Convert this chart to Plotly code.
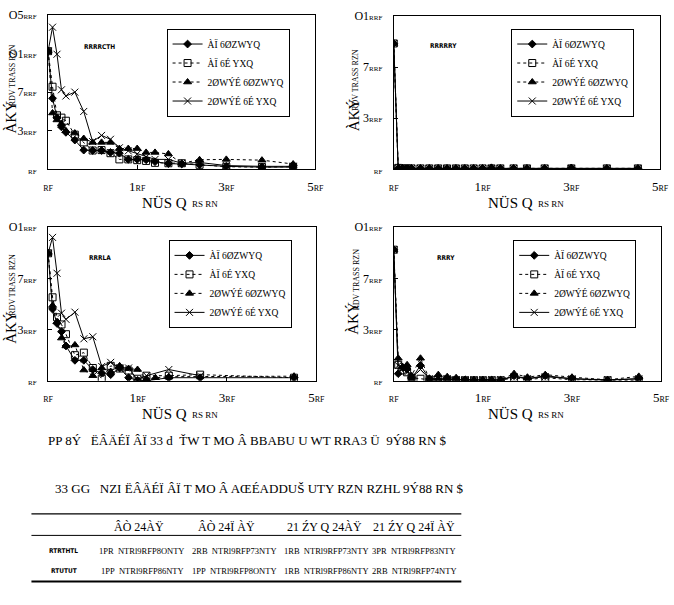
import plotly.graph_objects as go

W, H = 674, 605

# ---------------- data ----------------
X = [0, 0.5, 1, 1.5, 2, 3, 4, 5, 6, 7, 8, 9, 10, 11, 12, 13.5, 15, 17, 20, 24, 27.5]

SERIES_NAMES = ["ÀÏ 6ØZWYQ", "ÀÏ 6É YXQ", "2ØWÝÉ 6ØZWYQ", "2ØWÝÉ 6É YXQ"]

# panel A (top-left)
A_S1 = [153, 92, 67, 55, 48, 38, 25, 24.5, 24.5, 22, 21, 13, 13, 12.5, 10, 7.5, 7, 6, 4, 3, 3]
A_S2 = [153, 107, 70, 67, 63, 45, 35, 24.5, 25, 21, 13, 13, 12, 11, 8.5, 8, 8, 6, 3.5, 3, 3.5]
A_S3 = [153, 73, 64, 59, 50, 47, 40, 35, 35, 35, 27, 27, 27, 22, 22, 20, 8, 12.5, 13, 12, 7]
A_S4 = [153, 184, 149, 103, 95, 100, 75, 36, 44, 39, 28, 24, 20, 16, 13, 13, 8, 9, 5, 4, 4]

# panel B (top-right)
B_S1 = [123, 1, 1, 1, 1, 1, 1, 1, 1, 1, 1, 1, 1, 1.5, 1, 1, 1, 1, 1.5, 1, 1]
B_S2 = [123, 1.5, 1, 1, 1, 1, 1, 1, 1, 1, 1, 1, 1, 1, 1, 1, 1, 1, 1, 1, 1]
B_S3 = [123, 1.5, 1.5, 1, 1, 1, 1, 1, 1, 1, 1, 1, 1, 2, 1, 1, 1, 1, 1.5, 1, 1]
B_S4 = [123, 1, 1, 1, 1, 1, 1, 1, 1, 1, 1, 1, 1, 1, 1, 1, 1, 1, 1, 1, 1]

# panel C (bottom-left)
C_S1 = [124.5, 70, 56, 48, 34, 20, 20, 11, 7.5, 6, 12.5, 3, 0.5, 0, None, 3, None, 3, None, None, 3]
C_S2 = [124.5, 81.5, 62, 55, 45.5, 25, 27.5, 12.5, 2, 14.6, 12, 10, 2, 5, None, 5, None, 6, None, None, 3]
C_S3 = [124.5, 73.5, 57.6, 41.7, 34, 35, 10.5, 5, 12.5, 9, 14.6, 12, 11, 1.6, 3, 4, None, None, None, None, 4.5]
C_S4 = [124.5, 140, 105, 66, 60, 67, 41, 43, 14, 18, 12.5, 12.5, 1, 5, None, 11, None, 5, None, None, None]

# panel D (bottom-right)
D_S1 = [128, 7, 13, 11.5, 2, 15, 2, 1, 1, 1, 1, 0.5, 0.5, 0.5, 0.5, 5, 2, 5, 2, 0.5, 2]
D_S2 = [128, 15.6, 10, 8.3, 3, 2, 1, 1, 1, 0.5, 0.5, 0.5, 0.5, 0.5, 0.5, 3, 1, 3, 1, 0.5, 0.5]
D_S3 = [128, 22, 13.7, 15.6, 5, 22, 2, 6, 4, 3, 1, 1, 1, 1, 1, 7, 3.5, 6, 3.5, 1, 4.3]
D_S4 = [128, 15, 12, 10, 3, 11, 2, 2, 2, 1, 1, 1, 1, 1, 1, 4, 2, 4, 2, 1, 2]

PANEL_LABELS = ["RRRRCTH", "RRRRRY", "RRRLA", "RRRY"]

X_TICK_VALS = [0, 10, 20, 30]
X_TICK_BIG = ["", "1", "3", "5"]
X_TICK_SMALL = ["RF", "RF", "RF", "RF"]
Y_TICK_VALS_A = [0, 50, 100, 150, 200]
Y_TICK_BIG_A = ["", "3", "7", "O1", "O5"]
Y_TICK_SMALL_A = ["RF", "RRF", "RRF", "RRF", "RRF"]
Y_TICK_VALS = [0, 50, 100, 150]
Y_TICK_BIG = ["", "3", "7", "O1"]
Y_TICK_SMALL = ["RF", "RRF", "RRF", "RRF"]

X_TITLE_BIG = "NÜS Q"
X_TITLE_SMALL = "RS RN"
Y_TITLE_BIG = "ÀKÝ"
Y_TITLE_SMALL = "RDV TRASS RZN"

NOTE_LINE_1 = "PP 8Ý   ËÂÄÉÏ ÂÏ 33 d  ŤW T MO Â BBABU U WT RRA3 Ü  9Ý88 RN $"
NOTE_LINE_2 = "33 GG   NZI ËÂÄÉÏ ÂÏ T MO Â AŒÉADDUŠ UTY RZN RZHL 9Ý88 RN $"

TABLE_HEADER = ["ÂÒ 24ÀŸ", "ÂÒ 24Ï ÀŸ", "21 ŹY Q 24ÀŸ", "21 ŹY Q 24Ï ÀŸ"]
TABLE_ROW_LABELS = ["RTRTHTL", "RTUTUT"]
TABLE_ROWS = [
    ["1PR  NTRl9RFP8ONTY", "2RB  NTRl9RFP73NTY", "1RB  NTRl9RFP73NTY", "3PR  NTRl9RFP83NTY"],
    ["1PP  NTRl9RFP86NTY", "1PP  NTRl9RFP8ONTY", "1RB  NTRl9RFP86NTY", "2RB  NTRl9RFP74NTY"],
]

# ---------------- layout helpers ----------------
FONT = "Liberation Serif"
NARROW = "Liberation Sans Narrow, DejaVu Sans Condensed, Liberation Sans"


def px(x):
    return x / W


def py(y):
    return 1 - y / H


def tick_text(big, small, small_size=8):
    return [b + "<span style='font-size:%dpx'>%s</span>" % (small_size, s) for b, s in zip(big, small)]


panels = [
    dict(s=[A_S1, A_S2, A_S3, A_S4], xd=(44, 317), yd=(8, 166), yv=Y_TICK_VALS_A,
         yt=tick_text(Y_TICK_BIG_A, Y_TICK_SMALL_A, 7), yr=200, leg=(165, 22), lab=(97, 41),
         ytx=6, yts=70, ytb=112),
    dict(s=[B_S1, B_S2, B_S3, B_S4], xd=(397, 669), yd=(9, 166), yv=Y_TICK_VALS,
         yt=tick_text(Y_TICK_BIG, Y_TICK_SMALL, 7), yr=150, leg=(517, 22), lab=(448, 40),
         ytx=356, yts=75, ytb=110),
    dict(s=[C_S1, C_S2, C_S3, C_S4], xd=(44, 318), yd=(225, 382), yv=Y_TICK_VALS,
         yt=tick_text(Y_TICK_BIG, Y_TICK_SMALL, 7), yr=150, leg=(167, 238), lab=(97, 257),
         ytx=6, yts=284, ytb=327),
    dict(s=[D_S1, D_S2, D_S3, D_S4], xd=(397, 670), yd=(225, 382), yv=Y_TICK_VALS,
         yt=tick_text(Y_TICK_BIG, Y_TICK_SMALL, 7), yr=150, leg=(519, 238), lab=(450, 257),
         ytx=356, yts=279, ytb=318),
]

styles = [
    dict(dash="solid", symbol="diamond", size=6),
    dict(dash="dot", symbol="square-open", size=7),
    dict(dash="dot", symbol="triangle-up", size=7),
    dict(dash="solid", symbol="x-thin-open", size=7),
]

fig = go.Figure()
annotations = []
layout_extra = {}


def ann(x, y, text, size, family=FONT, xanchor="center", yanchor="middle", angle=0):
    return dict(x=px(x), y=py(y), xref="paper", yref="paper", text=text, showarrow=False,
                xanchor=xanchor, yanchor=yanchor, textangle=angle,
                font=dict(family=family, size=size, color="black"))


x_tick_text = tick_text(X_TICK_BIG, X_TICK_SMALL, 8)

for i, p in enumerate(panels, start=1):
    suf = "" if i == 1 else str(i)
    xa, ya = "x" + suf, "y" + suf
    leg = "legend" + suf
    for vals, st, name in zip(p["s"], styles, SERIES_NAMES):
        fig.add_trace(go.Scatter(
            x=X, y=vals, name=name, mode="lines+markers",
            xaxis=xa, yaxis=ya, legend=leg, connectgaps=True,
            line=dict(color="black", width=1, dash=st["dash"]),
            marker=dict(symbol=st["symbol"], size=st["size"], color="black",
                        line=dict(color="black", width=1)),
        ))
    x0, x1 = p["xd"]
    ytop, ybot = p["yd"]
    layout_extra["xaxis" + suf] = dict(
        domain=[px(x0), px(x1)], anchor=ya, range=[0, 30],
        tickvals=X_TICK_VALS, ticktext=x_tick_text, ticks="inside", ticklen=4,
        tickcolor="black", showline=True, linecolor="black", linewidth=1, mirror=True,
        showgrid=False, zeroline=False, ticklabelstandoff=5,
        tickfont=dict(family=FONT, size=13, color="black"),
    )
    layout_extra["yaxis" + suf] = dict(
        domain=[py(ybot), py(ytop)], anchor=xa, range=[0, p["yr"]],
        tickvals=p["yv"], ticktext=p["yt"], ticks="inside", ticklen=4,
        tickcolor="black", showline=True, linecolor="black", linewidth=1, mirror=True,
        showgrid=False, zeroline=False, ticklabelstandoff=8,
        tickfont=dict(family=FONT, size=12, color="black"),
    )
    lx, ly = p["leg"]
    layout_extra[leg] = dict(
        x=px(lx), y=py(ly), xanchor="left", yanchor="top", xref="paper", yref="paper",
        bordercolor="black", borderwidth=1, bgcolor="white", tracegroupgap=0,
        itemwidth=30, font=dict(family=FONT, size=9.5, color="black"),
    )
    # panel label
    annotations.append(ann(p["lab"][0], p["lab"][1], "<b>" + PANEL_LABELS[i - 1] + "</b>", 6.5, NARROW))
    # x title (large part + small part)
    annotations.append(ann(x0 + 144, ybot + 34, X_TITLE_BIG, 15, xanchor="right"))
    annotations.append(ann(x0 + 145, ybot + 35, X_TITLE_SMALL, 9, xanchor="left"))
    # y title (rotated)
    annotations.append(ann(p["ytx"], p["ytb"], Y_TITLE_BIG, 15, angle=-90))
    annotations.append(ann(p["ytx"] + 2, p["yts"], Y_TITLE_SMALL, 8, angle=-90))

# notes
annotations.append(ann(42, 443, NOTE_LINE_1, 13, xanchor="left"))
annotations.append(ann(49, 492, NOTE_LINE_2, 13, xanchor="left"))

# table
head_x = [137, 226, 326, 418]
cell_x = [140, 234, 328, 418]
for cx, htxt in zip(head_x, TABLE_HEADER):
    annotations.append(ann(cx, 531, htxt, 12))
row_y = [556, 576]
for ry, lab, row in zip(row_y, TABLE_ROW_LABELS, TABLE_ROWS):
    annotations.append(ann(60, ry, "<b>" + lab + "</b>", 6.5, NARROW))
    for cx, cell in zip(cell_x, row):
        annotations.append(ann(cx, ry, cell.replace("  ", "\u00a0\u00a0"), 8.5))

shapes = [
    dict(type="line", xref="paper", yref="paper", x0=px(27), x1=px(466), y0=py(518), y1=py(518),
         line=dict(color="black", width=1.2)),
    dict(type="line", xref="paper", yref="paper", x0=px(27), x1=px(466), y0=py(540), y1=py(540),
         line=dict(color="black", width=1)),
    dict(type="line", xref="paper", yref="paper", x0=px(27), x1=px(466), y0=py(587), y1=py(587),
         line=dict(color="black", width=2)),
]

fig.update_layout(
    width=W, height=H, margin=dict(l=0, r=0, t=0, b=0),
    paper_bgcolor="white", plot_bgcolor="white",
    font=dict(family=FONT, color="black"),
    showlegend=True, annotations=annotations, shapes=shapes,
    **layout_extra,
)

fig.write_html("out.html")
